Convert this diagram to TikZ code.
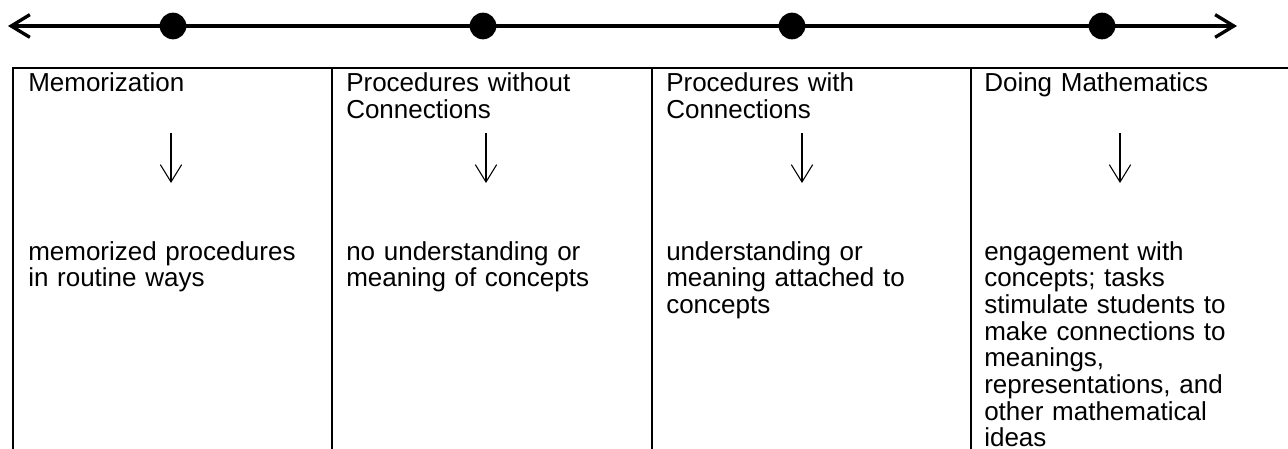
\documentclass[tikz,border=0pt]{standalone}
\usepackage{fontspec}
\setmainfont{Liberation Sans}
\usetikzlibrary{arrows.meta}
\newcommand\celltext{\fontsize{19.5}{20}\selectfont\lineskiplimit=-100pt\relax}

\begin{document}
\begin{tikzpicture}[
      x=0.75pt, y=-0.75pt,
      every node/.style={font=\celltext},
      label/.style={
        anchor=base west,
        inner sep=0pt,
        text width=228pt,
        align=left
      },
      dot/.style={circle, fill=black, inner sep=0pt, minimum size=20pt},
      scaleline/.style={line width=2.5pt,
        {Straight Barb[length=14pt,width=17pt]}-{Straight Barb[length=14pt,width=17pt]}},
      rule/.style={line width=1.8pt},
      arrow/.style={-{Straight Barb[length=13pt,width=16pt]}, line width=0.8pt}
    ]
      \useasboundingbox (0,0) rectangle (1288,449);
      % scale line on top
      \coordinate (lend) at (8,26);
      \coordinate (rend) at (1237,26);
      \draw[scaleline] (lend) -- (rend);
      \node[dot] (d1) at (173,26) {};
      \node[dot] (d2) at (483,26) {};
      \node[dot] (d3) at (792,26) {};
      \node[dot] (d4) at (1102,26) {};
      % table rules
      \draw[rule] (13,449) -- (13,68) -- (1288,68);
      \draw[rule] (332,68) -- (332,449);
      \draw[rule] (652,68) -- (652,449);
      \draw[rule] (971,68) -- (971,449);
      % column heads
      \node[label] (h1) at (28,92) {Memorization};
      \node[label] (h2) at (346,92) {Procedures without\\Connections};
      \node[label] (h3) at (666,92) {Procedures with\\Connections};
      \node[label] (h4) at (984,92) {Doing Mathematics};
      % column texts
      \node[label] (t1) at (28,260) {memorized procedures\\in routine ways};
      \node[label] (t2) at (346,260) {no understanding or\\meaning of concepts};
      \node[label] (t3) at (666,260) {understanding or\\meaning attached to\\concepts};
      \node[label] (t4) at (984,260) {engagement with\\concepts; tasks\\stimulate students to\\make connections to\\meanings,\\representations, and\\other mathematical\\ideas};
      % down arrows
      \coordinate (a1) at (171,133);
      \coordinate (b1) at (171,183);
      \coordinate (a2) at (486,133);
      \coordinate (b2) at (486,183);
      \coordinate (a3) at (802,133);
      \coordinate (b3) at (802,183);
      \coordinate (a4) at (1120,133);
      \coordinate (b4) at (1120,183);
      \draw[arrow] (a1) -- (b1);
      \draw[arrow] (a2) -- (b2);
      \draw[arrow] (a3) -- (b3);
      \draw[arrow] (a4) -- (b4);
    \end{tikzpicture}
\end{document}
